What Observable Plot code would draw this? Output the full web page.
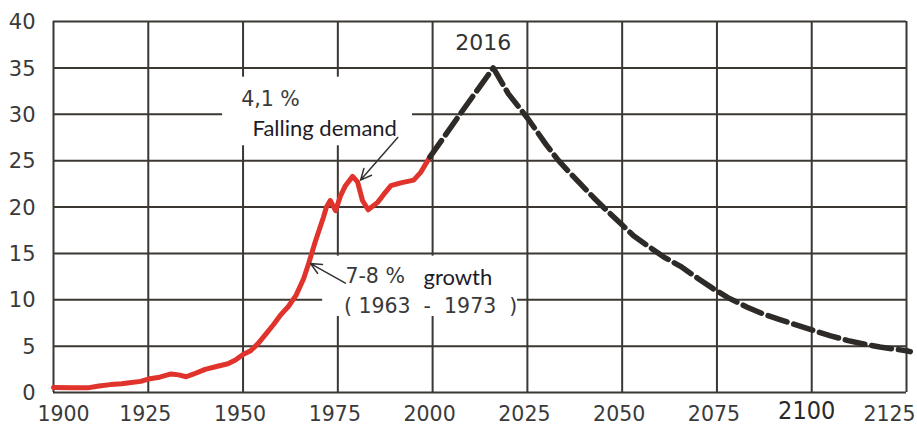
<!DOCTYPE html>
<html>
<head>
<meta charset="utf-8">
<script src="https://cdn.jsdelivr.net/npm/d3@7"></script>
<script src="https://cdn.jsdelivr.net/npm/@observablehq/plot@0.6"></script>
<style>
  html, body { margin: 0; padding: 0; background: #fff; }
  #chart { width: 917px; height: 427px; }
</style>
</head>
<body>
<div id="chart"></div>
<script>
// Historical production (red)
const histYears  = [1900, 1905, 1909, 1912, 1915, 1918, 1920, 1923, 1925, 1928, 1931, 1933, 1935, 1937, 1940, 1943, 1946, 1948, 1950, 1952, 1954, 1956, 1958, 1960, 1962, 1964, 1966, 1967.3, 1969, 1971.2, 1972, 1973, 1974.4, 1975.7, 1977, 1978.9, 1980.2, 1981.5, 1983, 1985.5, 1987, 1989, 1991.6, 1995, 1996.8, 1998.7, 1999.3];
const histValues = [0.55, 0.5, 0.5, 0.7, 0.85, 0.95, 1.05, 1.2, 1.45, 1.65, 2.0, 1.9, 1.7, 2.0, 2.5, 2.8, 3.1, 3.5, 4.1, 4.5, 5.3, 6.3, 7.3, 8.4, 9.3, 10.5, 12.3, 13.9, 16.2, 18.9, 20.0, 20.7, 19.6, 21.2, 22.3, 23.3, 22.7, 20.7, 19.7, 20.5, 21.3, 22.3, 22.6, 22.9, 23.7, 25.0, 25.4];

// Projection (black dashed)
const projYears  = [1999.3, 2007.4, 2016, 2020, 2025, 2030, 2033, 2036.4, 2039, 2042.5, 2046, 2049.4, 2053, 2057.5, 2061, 2065.4, 2070, 2074, 2078, 2083, 2087, 2092, 2099.6, 2105, 2109.6, 2114, 2118, 2125, 2126];
const projValues = [25.4, 30.1, 35, 32.2, 29.6, 26.7, 25.1, 23.6, 22.5, 21.0, 19.6, 18.3, 16.9, 15.6, 14.6, 13.6, 12.3, 11.2, 10.2, 9.2, 8.5, 7.8, 6.8, 6.1, 5.6, 5.2, 4.9, 4.5, 4.4];

// Axis ticks
const xTicks = [1900, 1925, 1950, 1975, 2000, 2025, 2050, 2075, 2100, 2125];
const yTicks = [0, 5, 10, 15, 20, 25, 30, 35, 40];

// Annotation texts (anchored in data space)
const peakLabel = {text: "2016", year: 2016, value: 37.7};
const numLabels = [
  {text: "4,1 %", year: 1949.5, value: 31.6},
  {text: "7-8 %", year: 1977, value: 12.5},
  {text: "(\u00a01963\u00a0\u00a0-\u00a0\u00a01973\u00a0\u00a0)", year: 1976.6, value: 9.3}
];
const wordLabels = [
  {text: "Falling demand", year: 1952.5, value: 28.4},
  {text: "growth", year: 1997.6, value: 12.3}
];
const arrows = [
  {x1: 1990.8, y1: 27.5, x2: 1981.0, y2: 22.9},
  {x1: 1977.0, y1: 11.8, x2: 1967.8, y2: 13.9}
];
// White label backgrounds that interrupt the grid
const labelBoxes = [
  {x1: 1944.6, x2: 1994.7, y1: 26.6, y2: 34.0},
  {x1: 1971.0, x2: 2022.4, y1: 8.2, y2: 14.7}
];

const hist = histYears.map((y, i) => ({year: y, value: histValues[i]}));
const proj = projYears.map((y, i) => ({year: y, value: projValues[i]}));

const gridColor = "#3b3733";
const numFont = "DejaVu Sans";
const wordFont = "Lato";
const tickFill = "#3a3a3a";

const xLabel = (filter, opts) => Plot.text(xTicks.filter(filter), Object.assign({
  x: d => d, text: d => String(d), frameAnchor: "bottom", lineAnchor: "middle",
  dy: 22, fontFamily: numFont, fontSize: 20.5, fill: tickFill
}, opts));

const chart = Plot.plot({
  width: 917,
  height: 427,
  marginLeft: 53,
  marginRight: 11,
  marginTop: 21,
  marginBottom: 35,
  x: {domain: [1900, 2125], axis: null},
  y: {domain: [0, 40], axis: null},
  style: {background: "white", overflow: "visible"},
  marks: [
    Plot.gridX(xTicks, {stroke: gridColor, strokeOpacity: 1, strokeWidth: 2}),
    Plot.gridY(yTicks, {stroke: gridColor, strokeOpacity: 1, strokeWidth: 2}),
    Plot.rect(labelBoxes, {x1: "x1", x2: "x2", y1: "y1", y2: "y2", fill: "white"}),
    Plot.line(hist, {x: "year", y: "value", stroke: "#e0332b", strokeWidth: 5, strokeLinejoin: "round", strokeLinecap: "round"}),
    Plot.line(proj, {x: "year", y: "value", stroke: "#2d2a27", strokeWidth: 5.5, strokeDasharray: "20,7"}),
    Plot.arrow(arrows, {x1: "x1", y1: "y1", x2: "x2", y2: "y2", stroke: "#333", strokeWidth: 1.5, headLength: 12, headAngle: 50}),
    Plot.text([peakLabel], {x: "year", y: "value", text: "text", dx: -10, fontFamily: numFont, fontSize: 22, fill: "#333"}),
    Plot.text(numLabels, {x: "year", y: "value", text: "text", textAnchor: "start", fontFamily: numFont, fontSize: 20.5, fill: tickFill}),
    Plot.text(wordLabels, {x: "year", y: "value", text: "text", textAnchor: "start", fontFamily: wordFont, fontSize: 22, fill: "#1c1c28"}),
    // y tick labels
    Plot.text(yTicks, {y: d => d, text: d => String(d), frameAnchor: "left", lineAnchor: "middle", textAnchor: "end", dx: -18, dy: 1, fontFamily: numFont, fontSize: 21, fill: tickFill}),
    // x tick labels
    xLabel(d => d === 1900, {dx: 10}),
    xLabel(d => d > 1900 && d < 2100, {dx: -3}),
    xLabel(d => d === 2100, {dx: -5, dy: 18, fontFamily: "DejaVu Sans Condensed", fontSize: 25, fill: "#2a2a2a"}),
    xLabel(d => d === 2125, {dx: -17})
  ]
});
document.getElementById("chart").appendChild(chart);
</script>
</body>
</html>
